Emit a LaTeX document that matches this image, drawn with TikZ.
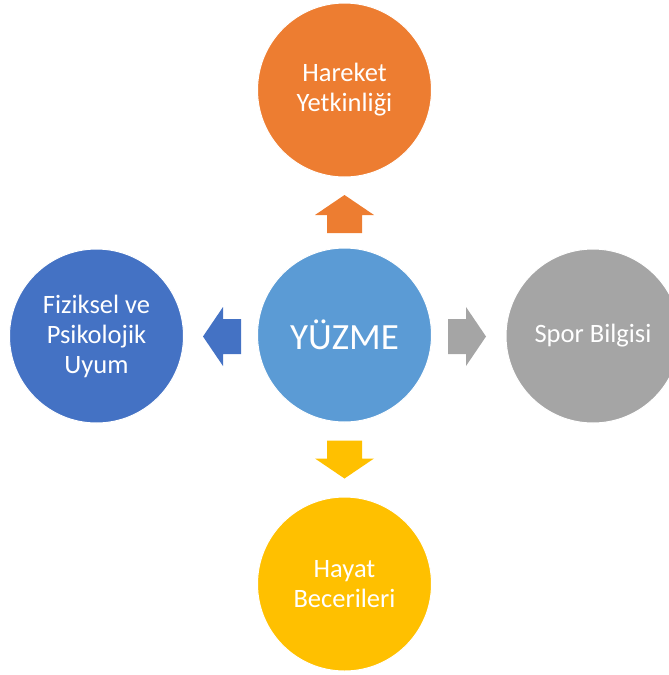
\documentclass[tikz,border=0pt]{standalone}
\usepackage{fontspec}
\setmainfont{Carlito}
\definecolor{cOrange}{HTML}{ED7D31}
\definecolor{cCenter}{HTML}{5B9BD5}
\definecolor{cBlue}{HTML}{4472C4}
\definecolor{cGray}{HTML}{A5A5A5}
\definecolor{cGold}{HTML}{FFC000}
\tikzset{
  bubble/.style={circle, minimum size=174pt, inner sep=0pt, draw=white, line width=1pt,
    text=white, align=center, font=\fontsize{26.5}{30}\selectfont},
  pics/blockarr/.style={code={
    \fill (-19,-17.5) -- (-1,-17.5) -- (-1,-29.5) -- (19,0) -- (-1,29.5) -- (-1,17.5) -- (-19,17.5) -- cycle;
  }}
}
\begin{document}
\begin{tikzpicture}[x=1pt,y=-1pt]
\useasboundingbox (0,0) rectangle (669,675);
\node[bubble, fill=cCenter, font=\fontsize{37}{44}\selectfont] (center) at (344.5,335) {YÜZME};
\node[bubble, fill=cOrange] (top) at (344.5,90) {Hareket\\Yetkinliği};
\node[bubble, fill=cBlue] (left) at (96.5,336) {Fiziksel ve\\Psikolojik\\Uyum};
\node[bubble, fill=cGray] (right) at (593,336) {Spor Bilgisi};
\node[bubble, fill=cGold] (bottom) at (344.5,584) {Hayat\\Becerileri};
\coordinate (aup) at (344.5,214);
\coordinate (aleft) at (222,336.5);
\coordinate (aright) at (467,336.5);
\coordinate (adown) at (344.5,459.5);
\pic[fill=cOrange, rotate=90] at (aup) {blockarr};
\pic[fill=cBlue, rotate=180] at (aleft) {blockarr};
\pic[fill=cGray] at (aright) {blockarr};
\pic[fill=cGold, rotate=270] at (adown) {blockarr};
\end{tikzpicture}
\end{document}
